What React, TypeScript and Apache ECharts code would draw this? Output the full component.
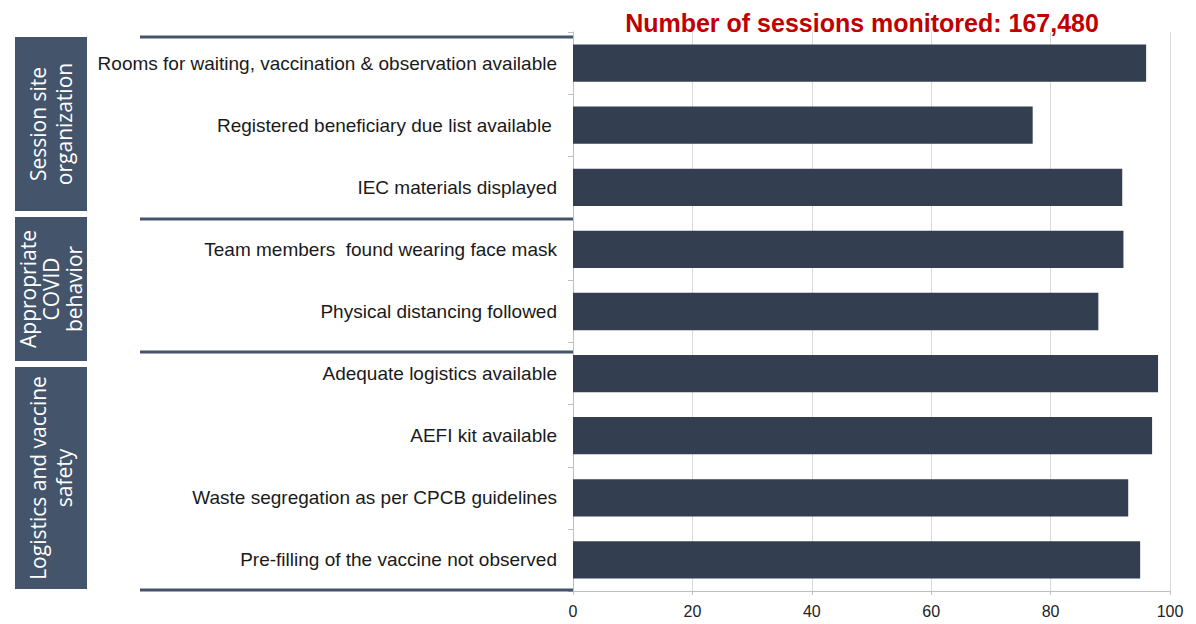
import React, { useEffect, useRef } from "react";
import * as echarts from "echarts";

const categories = [
  "Rooms for waiting, vaccination & observation available",
  "Registered beneficiary due list available ",
  "IEC materials displayed",
  "Team members  found wearing face mask",
  "Physical distancing followed",
  "Adequate logistics available",
  "AEFI kit available",
  "Waste segregation as per CPCB guidelines",
  "Pre-filling of the vaccine not observed",
];
const values = [96, 77, 92, 92.2, 88, 98, 97, 93, 95];
const xTicks = [0, 20, 40, 60, 80, 100];
const groups = [
  "Session site\norganization",
  "Appropriate\nCOVID\nbehavior",
  "Logistics and vaccine\nsafety",
];
const titleText = "Number of sessions monitored: 167,480";

export default function App() {
  const ref = useRef<HTMLDivElement>(null);
  useEffect(() => {
    document.body.style.margin = "0";
    if (!ref.current) return;
    const chart = echarts.init(ref.current, null, { renderer: "svg" });
    const boxColor = "#44546a";
    const boxes = [
      { y: 37, h: 174, lh: 26 },
      { y: 217, h: 144, lh: 23 },
      { y: 367, h: 222, lh: 26 },
    ];
    const sepYs = [37, 219, 352, 590];
    const graphic: any[] = [];
    boxes.forEach((b, i) => {
      graphic.push({
        type: "rect",
        shape: { x: 15, y: b.y, width: 72, height: b.h },
        style: { fill: boxColor },
        z: 10,
      });
      graphic.push({
        type: "text",
        x: 51,
        y: b.y + b.h / 2,
        rotation: Math.PI / 2,
        style: {
          text: groups[i],
          fill: "#ffffff",
          font: '21px "Open Sans"',
          lineHeight: b.lh,
          align: "center",
          verticalAlign: "middle",
        },
        z: 11,
      });
    });
    sepYs.forEach((y) => {
      graphic.push({
        type: "line",
        shape: { x1: 140, y1: y, x2: 573, y2: y },
        style: { stroke: boxColor, lineWidth: 3 },
        z: 10,
      });
    });

    chart.setOption({
      animation: false,
      title: {
        text: titleText,
        left: 857,
        textAlign: "center",
        top: 5,
        textStyle: {
          color: "#c00000",
          fontFamily: '"Liberation Sans", Arial',
          fontWeight: "bold",
          fontSize: 25,
        },
      },
      grid: { left: 573, right: 26, top: 32, bottom: 33, containLabel: false },
      xAxis: {
        type: "value",
        min: 0,
        max: 100,
        interval: 20,
        axisLine: { show: true, lineStyle: { color: "#bfbfbf" } },
        axisTick: { show: true, length: 4, lineStyle: { color: "#bfbfbf" } },
        splitLine: { show: true, lineStyle: { color: "#d9d9d9" } },
        axisLabel: {
          color: "#222",
          fontFamily: '"Liberation Sans", Arial',
          fontSize: 16,
          margin: 12,
          formatter: (v: number) => (xTicks.includes(v) ? String(v) : ""),
        },
      },
      yAxis: {
        type: "category",
        data: categories,
        inverse: true,
        axisLine: { show: true, lineStyle: { color: "#bfbfbf" } },
        axisTick: { show: true, length: 5, lineStyle: { color: "#bfbfbf" } },
        axisLabel: {
          color: "#1a1a1a",
          fontFamily: '"Liberation Sans", Arial',
          fontSize: 19,
          margin: 16,
        },
      },
      series: [
        {
          type: "bar",
          data: values,
          barCategoryGap: "40%",
          itemStyle: { color: "#333f50" },
        },
      ],
      graphic,
    });
    return () => chart.dispose();
  }, []);
  return <div ref={ref} style={{ width: 1196, height: 624 }} />;
}
